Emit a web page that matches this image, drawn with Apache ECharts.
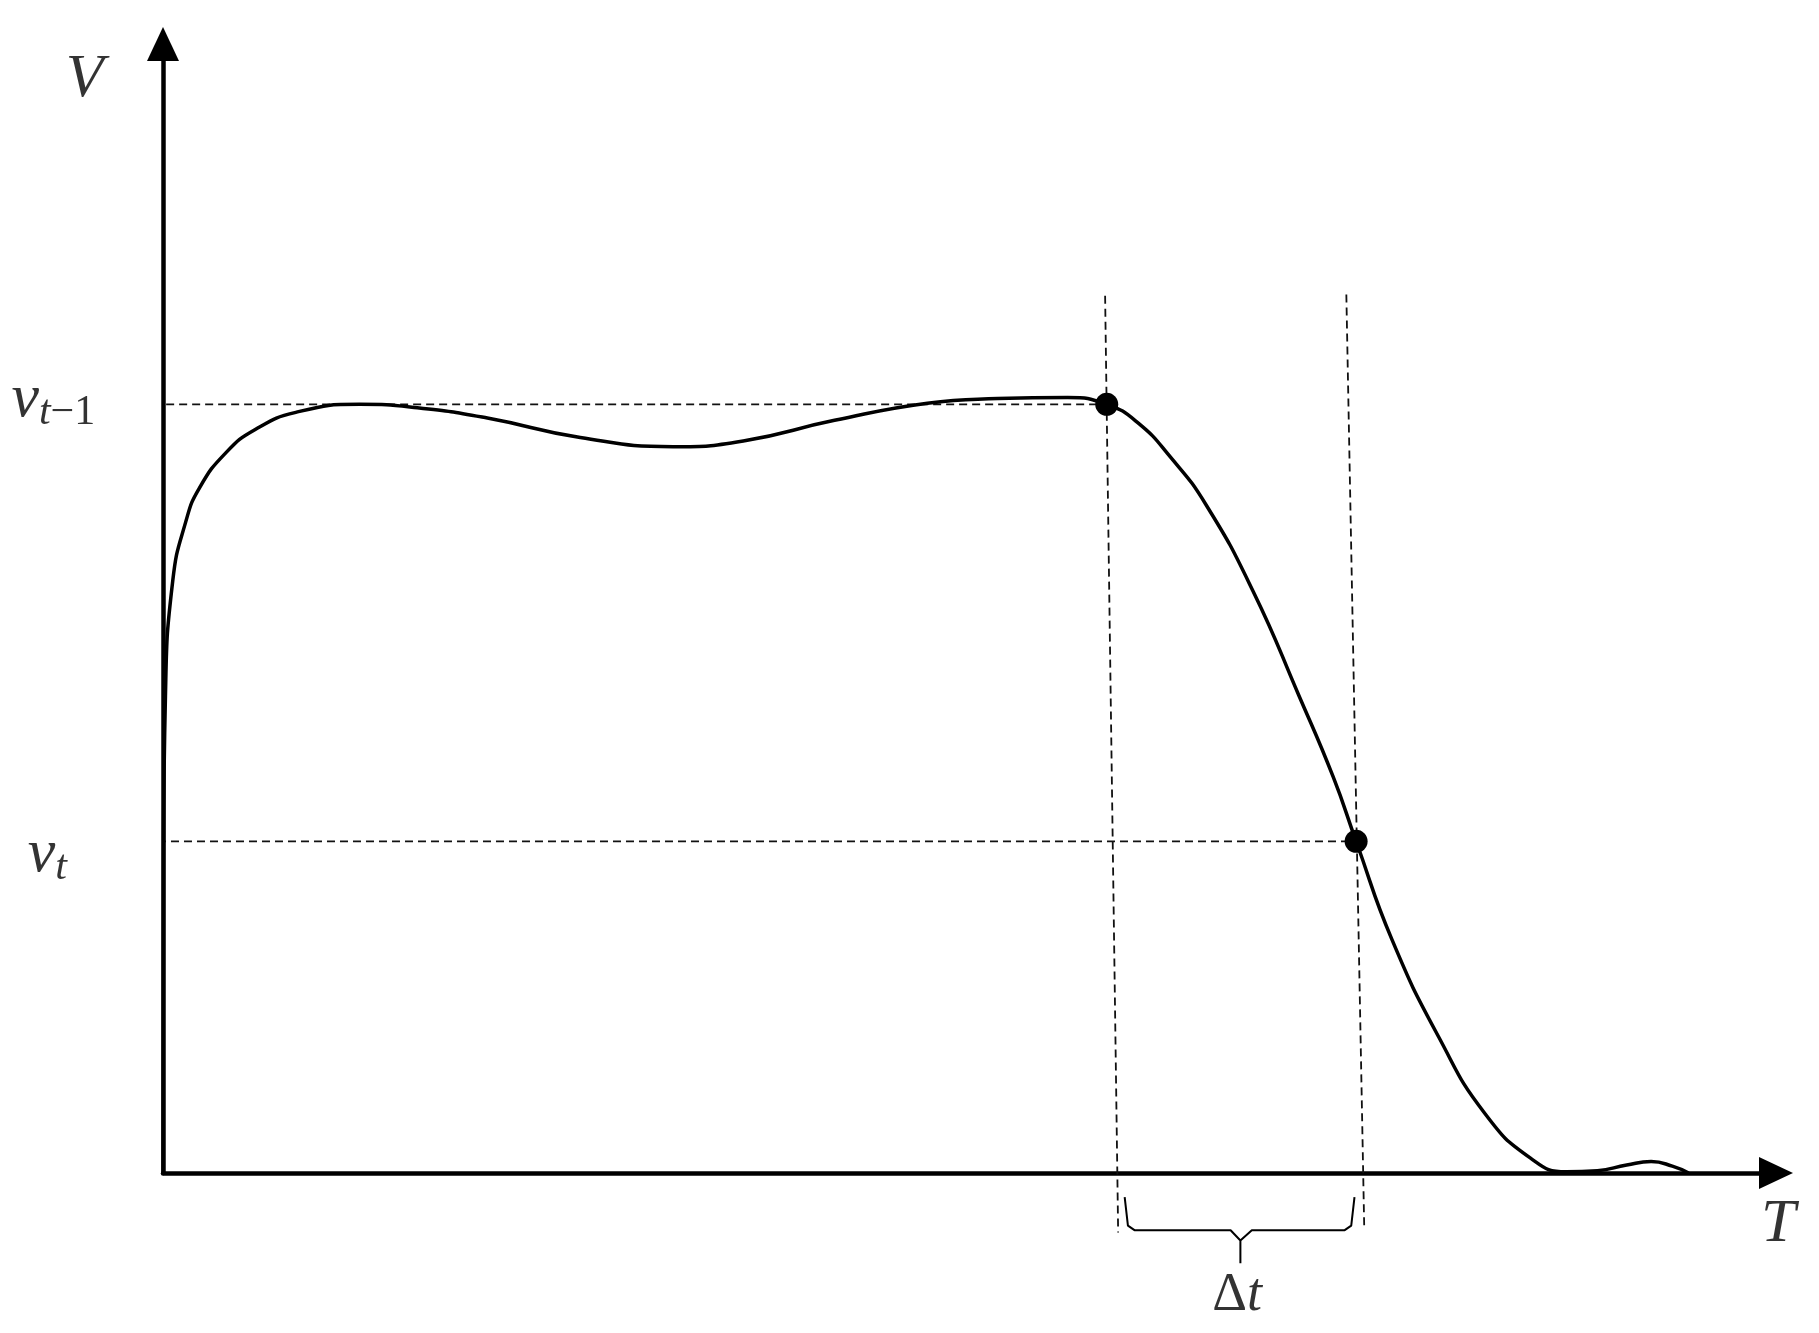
<!DOCTYPE html>
<html><head><meta charset="utf-8">
<script src="https://cdn.jsdelivr.net/npm/echarts@6/dist/echarts.min.js"></script>
<style>html,body{margin:0;padding:0;background:#fff}#c{width:1819px;height:1333px}</style>
</head><body><div id="c"></div>
<script>
// Curve samples [T, V]
var curveT = [0, 0.03, 0.15, 0.6, 1.39, 2.24, 3.88, 5.66, 8.15, 12.06, 15.6, 19.9, 25.6, 31.3, 35.6, 41.2, 46.9, 51.2, 55.5, 57.9, 59.8, 61.8, 64.0, 66.9, 69.7, 71.8, 73.2, 75.4, 78.3, 81.1, 83.9, 86.1, 88.0, 89.8, 91.3, 92.6, 93.6];
var curveV = [0, 26.5, 41.7, 51.8, 56.9, 59.9, 63.0, 65.0, 66.5, 67.2, 66.9, 66.0, 64.3, 63.5, 64.0, 65.8, 67.3, 67.7, 67.8, 67.2, 65.6, 62.6, 58.4, 50.8, 41.7, 34.6, 29.0, 20.4, 11.8, 5.2, 1.3, 0.1, 0.2, 0.7, 1.0, 0.6, 0.0];
// Marked points
var pointT = [57.9, 73.2];
var pointV = [67.2, 29.0];
// Guide lines
var hGuideStartT = [-2.2, -2.7];
var vGuideTop = [76.7, 76.8];
var vGuideBottom = [-5.2, -5.0];
var vGuideBottomT = [58.6, 73.7];
var vGuideTopT = [57.8, 72.6];
// Brace
var braceT = [59.0, 59.2, 59.6, 65.5, 66.1, 66.1, 66.1, 66.8, 72.5, 72.9, 73.1];
var braceV = [-2.1, -4.6, -5.0, -5.0, -5.9, -7.9, -5.9, -5.0, -5.0, -4.6, -2.1];
// Labels
var labelText = ['V', 'T', 'vt-1', 'vt', 'Δt'];
var labelT = [-4.8, 99.1, -9.3, -8.3, 65.9];
var labelV = [95.6, -4.5, 67.6, 27.8, -10.7];

function zip(a, b) { return a.map(function (x, i) { return [x, b[i]]; }); }

var dashStyle = { color: '#111', width: 1.8, type: [8, 5] };
var series = [];
series.push({
  type: 'line', data: zip(curveT, curveV), smooth: 0.5,
  symbol: 'none', lineStyle: { color: '#000', width: 3.5 }, z: 5, clip: false
});
for (var i = 0; i < 2; i++) {
  series.push({ type: 'line', data: [[hGuideStartT[i], pointV[i]], [pointT[i], pointV[i]]], symbol: 'none', lineStyle: dashStyle, clip: false, z: 3 });
  series.push({ type: 'line', data: [[vGuideTopT[i], vGuideTop[i]], [vGuideBottomT[i], vGuideBottom[i]]], symbol: 'none', lineStyle: dashStyle, clip: false, z: 3 });
}
series.push({ type: 'scatter', data: zip(pointT, pointV), symbol: 'circle', symbolSize: 23, itemStyle: { color: '#000', opacity: 1 }, z: 6 });
series.push({ type: 'line', data: zip(braceT, braceV), symbol: 'none', smooth: false, lineStyle: { color: '#000', width: 2 }, clip: false, z: 4 });

var ser = { fontFamily: 'Liberation Serif', fontStyle: 'italic', color: '#000' };
var rich = {
  m: Object.assign({ fontSize: 62 }, ser),
  s: Object.assign({ fontSize: 42, padding: [26, 0, 0, 0] }, ser),
  n: { fontFamily: 'Liberation Serif', fontSize: 42, color: '#000', padding: [26, 0, 0, 0] },
  d: { fontFamily: 'Liberation Serif', fontSize: 54, color: '#000' },
  dt: Object.assign({ fontSize: 54 }, ser)
};
var fmt = {
  'V': '{m|V}', 'T': '{m|T}', 'vt-1': '{m|v}{s|t}{n|−1}', 'vt': '{m|v}{s|t}', 'Δt': '{d|Δ}{dt|t}'
};
series.push({
  type: 'scatter', symbolSize: 1, itemStyle: { color: 'rgba(0,0,0,0)' }, clip: false, silent: true,
  data: labelText.map(function (t, i) {
    return {
      value: [labelT[i], labelV[i]], name: t,
      label: {
        show: true, position: 'inside', align: (t === 'vt-1' || t === 'vt') ? 'left' : 'center', verticalAlign: 'middle',
        formatter: fmt[t], rich: rich, color: '#000'
      }
    };
  })
});

var axisCommon = {
  type: 'value', min: 0, splitLine: { show: false }, axisTick: { show: false }, axisLabel: { show: false },
  axisLine: { show: true, onZero: false, symbol: ['none', 'triangle'], symbolSize: [32, 34], lineStyle: { color: '#000', width: 4.5 } }
};
var chart = echarts.init(document.getElementById('c'));
chart.setOption({
  backgroundColor: '#fff',
  animation: false,
  grid: { left: 163, right: 43, top: 44, bottom: 160 },
  xAxis: Object.assign({}, axisCommon, { max: 98.96 }),
  yAxis: Object.assign({}, axisCommon, { max: 98.7 }),
  series: series
});
</script></body></html>
